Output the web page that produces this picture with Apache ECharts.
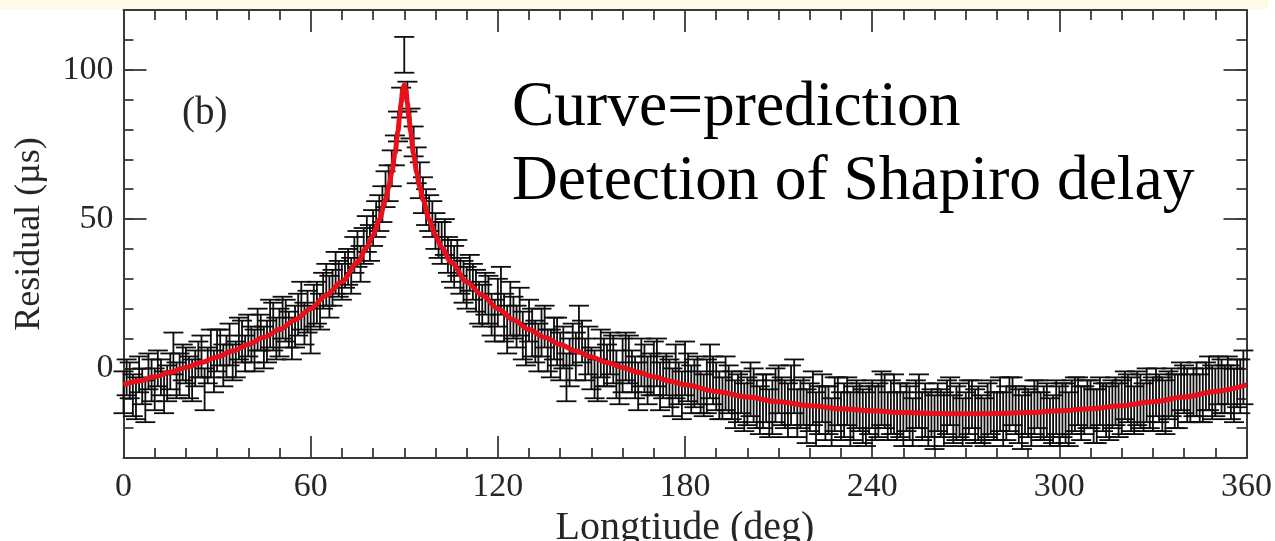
<!DOCTYPE html>
<html>
<head>
<meta charset="utf-8">
<script src="https://cdn.jsdelivr.net/npm/echarts@6/dist/echarts.min.js"></script>
<style>
  html, body { margin: 0; padding: 0; background: #ffffff; }
  #chart { width: 1275px; height: 541px; }
</style>
</head>
<body>
<div id="chart"></div>
<script>
// Timing residuals vs orbital longitude (deg), with 1-sigma errors (µs)
const longitude = [
  0, 1, 2, 3, 4, 5, 6, 7, 8, 9, 10, 11, 12, 13, 14, 15, 16, 17, 18, 19,
  20, 21, 22, 23, 24, 25, 26, 27, 28, 29, 30, 31, 32, 33, 34, 35, 36, 37, 38, 39,
  40, 41, 42, 43, 44, 45, 46, 47, 48, 49, 50, 51, 52, 53, 54, 55, 56, 57, 58, 59,
  60, 61, 62, 63, 64, 65, 66, 67, 68, 69, 70, 71, 72, 73, 74, 75, 76, 77, 78, 79,
  80, 81, 82, 83, 84, 85, 86, 87, 88, 89, 90, 91, 92, 93, 94, 95, 96, 97, 98, 99,
  100, 101, 102, 103, 104, 105, 106, 107, 108, 109, 110, 111, 112, 113, 114, 115, 116, 117, 118, 119,
  120, 121, 122, 123, 124, 125, 126, 127, 128, 129, 130, 131, 132, 133, 134, 135, 136, 137, 138, 139,
  140, 141, 142, 143, 144, 145, 146, 147, 148, 149, 150, 151, 152, 153, 154, 155, 156, 157, 158, 159,
  160, 161, 162, 163, 164, 165, 166, 167, 168, 169, 170, 171, 172, 173, 174, 175, 176, 177, 178, 179,
  180, 181, 182, 183, 184, 185, 186, 187, 188, 189, 190, 191, 192, 193, 194, 195, 196, 197, 198, 199,
  200, 201, 202, 203, 204, 205, 206, 207, 208, 209, 210, 211, 212, 213, 214, 215, 216, 217, 218, 219,
  220, 221, 222, 223, 224, 225, 226, 227, 228, 229, 230, 231, 232, 233, 234, 235, 236, 237, 238, 239,
  240, 241, 242, 243, 244, 245, 246, 247, 248, 249, 250, 251, 252, 253, 254, 255, 256, 257, 258, 259,
  260, 261, 262, 263, 264, 265, 266, 267, 268, 269, 270, 271, 272, 273, 274, 275, 276, 277, 278, 279,
  280, 281, 282, 283, 284, 285, 286, 287, 288, 289, 290, 291, 292, 293, 294, 295, 296, 297, 298, 299,
  300, 301, 302, 303, 304, 305, 306, 307, 308, 309, 310, 311, 312, 313, 314, 315, 316, 317, 318, 319,
  320, 321, 322, 323, 324, 325, 326, 327, 328, 329, 330, 331, 332, 333, 334, 335, 336, 337, 338, 339,
  340, 341, 342, 343, 344, 345, 346, 347, 348, 349, 350, 351, 352, 353, 354, 355, 356, 357, 358, 359
];
const residual = [
  -8, -3, -4, -9, -10, -2, -6, -11, -1, -4, -7, 0, -3, -8, -5, -1, 5, -4, -2, 2,
  1, -3, -4, 0, 3, 4, -7, 1, 5, -1, 6, 7, 1, 4, 8, 2, 3, 10, 9, 5,
  11, 8, 6, 13, 12, 7, 9, 15, 14, 10, 12, 17, 16, 13, 10, 14, 18, 21, 15, 19,
  13, 21, 22, 19, 26, 28, 24, 27, 32, 30, 29, 33, 34, 31, 38, 40, 35, 41, 45, 42,
  47, 50, 52, 55, 60, 62, 67, 73, 81, 89, 105, 91, 82, 76, 68, 63, 58, 54, 52, 50,
  46, 43, 42, 44, 38, 36, 34, 37, 31, 29, 27, 32, 29, 26, 22, 21, 25, 23, 18, 16,
  22, 26, 17, 13, 20, 17, 14, 19, 11, 8, 16, 12, 9, 7, 12, 14, 6, 5, 10, 9,
  4, 7, -3, 2, 8, 4, 13, 9, 3, 6, 0, -2, -4, 5, 2, 1, 5, 3, -2, -5,
  1, 4, 3, -1, -3, -6, 2, 0, -4, -2, 0, 2, -6, -3, -2, -5, -8, -1, -5, -9,
  0, -3, -7, -5, -4, -8, -9, -6, -1, -4, -6, -9, -10, -5, -7, -9, -12, -10, -8, -13,
  -11, -7, -9, -12, -14, -11, -10, -15, -13, -9, -7, -11, -12, -14, -9, -6, -15, -12, -11, -16,
  -13, -10, -17, -14, -10, -15, -14, -18, -12, -11, -16, -14, -11, -17, -15, -12, -13, -16, -17, -14,
  -12, -15, -14, -10, -11, -16, -13, -12, -16, -14, -17, -13, -15, -18, -12, -11, -16, -14, -17, -15,
  -18, -13, -15, -17, -13, -11, -17, -15, -14, -18, -16, -13, -12, -16, -15, -17, -18, -14, -13, -16,
  -16, -12, -17, -15, -12, -11, -14, -16, -18, -14, -15, -17, -13, -12, -16, -15, -14, -18, -17, -13,
  -16, -14, -15, -17, -13, -12, -11, -15, -14, -12, -12, -16, -16, -11, -13, -14, -15, -12, -11, -14,
  -13, -9, -10, -12, -14, -10, -11, -13, -9, -12, -12, -8, -10, -12, -13, -9, -8, -11, -11, -6,
  -7, -9, -10, -8, -7, -10, -9, -6, -5, -8, -8, -4, -6, -7, -4, -8, -9, -5, -6, -3
];
const errorBar = [
  7, 6, 6, 7, 7, 6, 6, 7, 6, 7, 7, 6, 6, 7, 6, 6, 7, 6, 7, 6,
  6, 7, 7, 6, 6, 7, 7, 6, 8, 7, 7, 6, 7, 7, 7, 6, 6, 7, 7, 6,
  7, 6, 7, 7, 6, 7, 7, 8, 8, 7, 8, 7, 7, 6, 7, 7, 7, 8, 7, 7,
  8, 7, 7, 6, 6, 7, 7, 6, 7, 6, 6, 6, 6, 6, 6, 6, 6, 6, 6, 6,
  6, 6, 6, 6, 6, 6, 6, 5, 5, 5, 6, 5, 5, 5, 6, 6, 6, 6, 6, 6,
  6, 6, 7, 6, 6, 7, 7, 6, 6, 7, 7, 6, 6, 7, 7, 7, 7, 8, 7, 7,
  8, 8, 8, 8, 9, 7, 7, 8, 8, 7, 7, 8, 7, 8, 8, 7, 7, 8, 7, 8,
  8, 7, 8, 8, 7, 8, 8, 7, 7, 8, 7, 8, 7, 8, 8, 7, 7, 8, 8, 7,
  9, 8, 8, 7, 7, 8, 8, 8, 8, 7, 9, 8, 8, 7, 7, 8, 8, 9, 7, 8,
  9, 8, 8, 8, 8, 7, 7, 9, 9, 8, 8, 8, 7, 9, 8, 8, 8, 8, 7, 8,
  8, 9, 9, 8, 8, 9, 8, 8, 9, 9, 8, 8, 8, 9, 10, 9, 8, 8, 8, 9,
  8, 9, 9, 8, 8, 9, 8, 8, 9, 8, 8, 9, 8, 9, 9, 8, 8, 9, 9, 8,
  8, 9, 9, 9, 9, 8, 9, 10, 8, 9, 9, 8, 9, 8, 8, 9, 8, 9, 9, 8,
  9, 8, 8, 9, 9, 8, 8, 9, 9, 8, 8, 9, 8, 9, 9, 8, 8, 9, 9, 8,
  8, 9, 9, 9, 9, 8, 8, 9, 9, 8, 8, 9, 9, 8, 8, 9, 9, 8, 8, 9,
  10, 9, 10, 9, 9, 9, 8, 9, 8, 8, 8, 9, 9, 8, 8, 9, 9, 8, 8, 9,
  9, 8, 8, 9, 8, 9, 9, 8, 9, 8, 9, 8, 8, 9, 9, 8, 8, 9, 9, 8,
  8, 9, 8, 8, 9, 8, 9, 8, 9, 9, 8, 8, 9, 8, 8, 9, 9, 8, 9, 9
];

// Predicted Shapiro delay curve (µs)
const curveLongitude = [
  0, 5, 10, 15, 20, 25, 30, 35, 40, 45, 50, 55, 60, 65, 70, 75, 78, 80, 82, 84,
  85, 86, 87, 88, 88.5, 89, 89.5, 90, 90.5, 91, 91.5, 92, 93, 94, 95, 96, 98, 100,
  102, 105, 110, 115, 120, 125, 130, 135, 140, 145, 150, 155, 160, 165, 170, 175, 180,
  190, 200, 210, 220, 230, 240, 250, 260, 270, 280, 290, 300, 310, 320, 330, 340, 350, 360
];
const curveResidual = [
  -5.5, -4.2, -2.8, -1.3, 0.3, 2, 3.8, 5.8, 8, 10.4, 13, 16.2, 20, 24.5, 29, 35.5, 40.5, 44.6, 49.8, 56.5,
  60.7, 65.6, 71.8, 79.5, 84.1, 88.9, 93.2, 95, 93.2, 88.9, 84.1, 79.5, 71.8, 65.6, 60.7, 56.5, 49.8, 44.6,
  40.5, 35.5, 29, 24.5, 20, 16.2, 13, 10.4, 8, 5.8, 3.8, 2, 0.3, -1.3, -2.8, -4.2, -5.5,
  -7.7, -9.6, -11.2, -12.5, -13.5, -14.2, -14.8, -15.1, -15.2, -15.1, -14.8, -14.2, -13.5, -12.5, -11.2, -9.6, -7.7, -5.5
];

// Axis ticks
const xTicks = [0, 60, 120, 180, 240, 300, 360];
const yTicks = [0, 50, 100];

const SERIF = "'Liberation Serif', 'Times New Roman', 'DejaVu Serif', serif";
const INK = '#262626';
const FRAME = '#3a3a3a';

const points = longitude.map((lon, i) => [lon, residual[i], errorBar[i]]);
const curve = curveLongitude.map((lon, i) => [lon, curveResidual[i]]);

const chart = echarts.init(document.getElementById('chart'), null, { renderer: 'canvas' });

const lineStyle = { color: FRAME, width: 2 };
const tickStyle = { color: FRAME, width: 1.8 };
const labelStyle = { fontFamily: SERIF, fontSize: 34, color: INK };

// Main grid: -30..120 µs; ticks grid: 0..100 µs on the same scale
const mainGrid = { left: 123.5, right: 28.5, top: 10, bottom: 83 };
const scale = (541 - mainGrid.top - mainGrid.bottom) / 150;
const zeroY = 541 - mainGrid.bottom - 30 * scale;
const tickGrid = {
  left: mainGrid.left, right: mainGrid.right,
  top: mainGrid.top + 20 * scale,
  bottom: 541 - zeroY
};

chart.setOption({
  animation: false,
  backgroundColor: '#ffffff',
  grid: [
    Object.assign({ containLabel: false, outerBoundsMode: 'none' }, mainGrid),
    Object.assign({ containLabel: false, outerBoundsMode: 'none' }, tickGrid)
  ],
  xAxis: [
    {
      type: 'value', gridIndex: 0, position: 'bottom',
      min: xTicks[0], max: xTicks[xTicks.length - 1], interval: 60,
      axisLine: { onZero: false, lineStyle },
      axisTick: { inside: true, length: 22, lineStyle: tickStyle },
      minorTick: { show: true, splitNumber: 6, length: 10, lineStyle: tickStyle },
      splitLine: { show: false },
      axisLabel: Object.assign({ margin: 12 }, labelStyle),
      name: 'Longtiude (deg)',
      nameLocation: 'middle',
      nameGap: 38,
      nameTextStyle: { fontFamily: SERIF, fontSize: 40, color: INK }
    },
    {
      type: 'value', gridIndex: 0, position: 'top',
      min: xTicks[0], max: xTicks[xTicks.length - 1], interval: 60,
      axisLine: { onZero: false, lineStyle },
      axisTick: { inside: true, length: 22, lineStyle: tickStyle },
      minorTick: { show: true, splitNumber: 6, length: 10, lineStyle: tickStyle },
      splitLine: { show: false },
      axisLabel: { show: false }
    },
    {
      type: 'value', gridIndex: 1, min: 0, max: 360, show: false
    }
  ],
  yAxis: [
    {
      type: 'value', gridIndex: 0, position: 'left',
      min: -30, max: 120, interval: 10,
      axisLine: { onZero: false, lineStyle },
      axisTick: { inside: true, length: 10, lineStyle: tickStyle },
      splitLine: { show: false },
      axisLabel: { show: false },
      name: 'Residual (µs)',
      nameLocation: 'middle',
      nameGap: 76,
      nameTextStyle: { fontFamily: SERIF, fontSize: 36, color: INK }
    },
    {
      type: 'value', gridIndex: 0, position: 'right',
      min: -30, max: 120, interval: 10,
      axisLine: { onZero: false, lineStyle },
      axisTick: { inside: true, length: 10, lineStyle: tickStyle },
      splitLine: { show: false },
      axisLabel: { show: false }
    },
    {
      type: 'value', gridIndex: 1, position: 'left',
      min: yTicks[0], max: yTicks[yTicks.length - 1], interval: 50,
      axisLine: { show: false },
      axisTick: { inside: true, length: 23, lineStyle: tickStyle },
      splitLine: { show: false },
      axisLabel: Object.assign({ margin: 10 }, labelStyle)
    },
    {
      type: 'value', gridIndex: 1, position: 'right',
      min: yTicks[0], max: yTicks[yTicks.length - 1], interval: 50,
      axisLine: { show: false },
      axisTick: { inside: true, length: 23, lineStyle: tickStyle },
      splitLine: { show: false },
      axisLabel: { show: false }
    }
  ],
  graphic: [
    { type: 'rect', left: 0, top: 0, shape: { width: 1268, height: 9 },
      style: { fill: '#fdfbe3' }, z: 100 },
    { type: 'text', x: 182, y: 114, z: 100,
      style: { text: '(b)', fontFamily: SERIF, fontSize: 39, fill: INK, verticalAlign: 'middle' } },
    { type: 'text', x: 512, y: 108, z: 100,
      style: { text: 'Curve=prediction', fontFamily: SERIF, fontSize: 63.5, fill: '#000', verticalAlign: 'middle' } },
    { type: 'text', x: 512, y: 182, z: 100,
      style: { text: 'Detection of Shapiro delay', fontFamily: SERIF, fontSize: 63.5, fill: '#000', verticalAlign: 'middle' } }
  ],
  series: [
    {
      type: 'custom',
      name: 'residuals',
      xAxisIndex: 0, yAxisIndex: 0,
      data: points,
      encode: { x: 0, y: 1 },
      z: 2,
      renderItem: function (params, api) {
        const lon = api.value(0), val = api.value(1), err = api.value(2);
        const hi = api.coord([lon, val + err]);
        const lo = api.coord([lon, val - err]);
        const half = 10;
        const st = { stroke: '#0d0d0d', lineWidth: 1.8 };
        return {
          type: 'group',
          children: [
            { type: 'line', shape: { x1: hi[0], y1: hi[1], x2: lo[0], y2: lo[1] }, style: st },
            { type: 'line', shape: { x1: hi[0] - half, y1: hi[1], x2: hi[0] + half, y2: hi[1] }, style: st },
            { type: 'line', shape: { x1: lo[0] - half, y1: lo[1], x2: lo[0] + half, y2: lo[1] }, style: st }
          ]
        };
      }
    },
    {
      type: 'line',
      name: 'prediction',
      xAxisIndex: 0, yAxisIndex: 0,
      data: curve,
      smooth: 0.3,
      smoothMonotone: 'x',
      symbol: 'none',
      z: 5,
      lineStyle: { color: '#e8101a', width: 5 }
    }
  ]
});
</script>
</body>
</html>
